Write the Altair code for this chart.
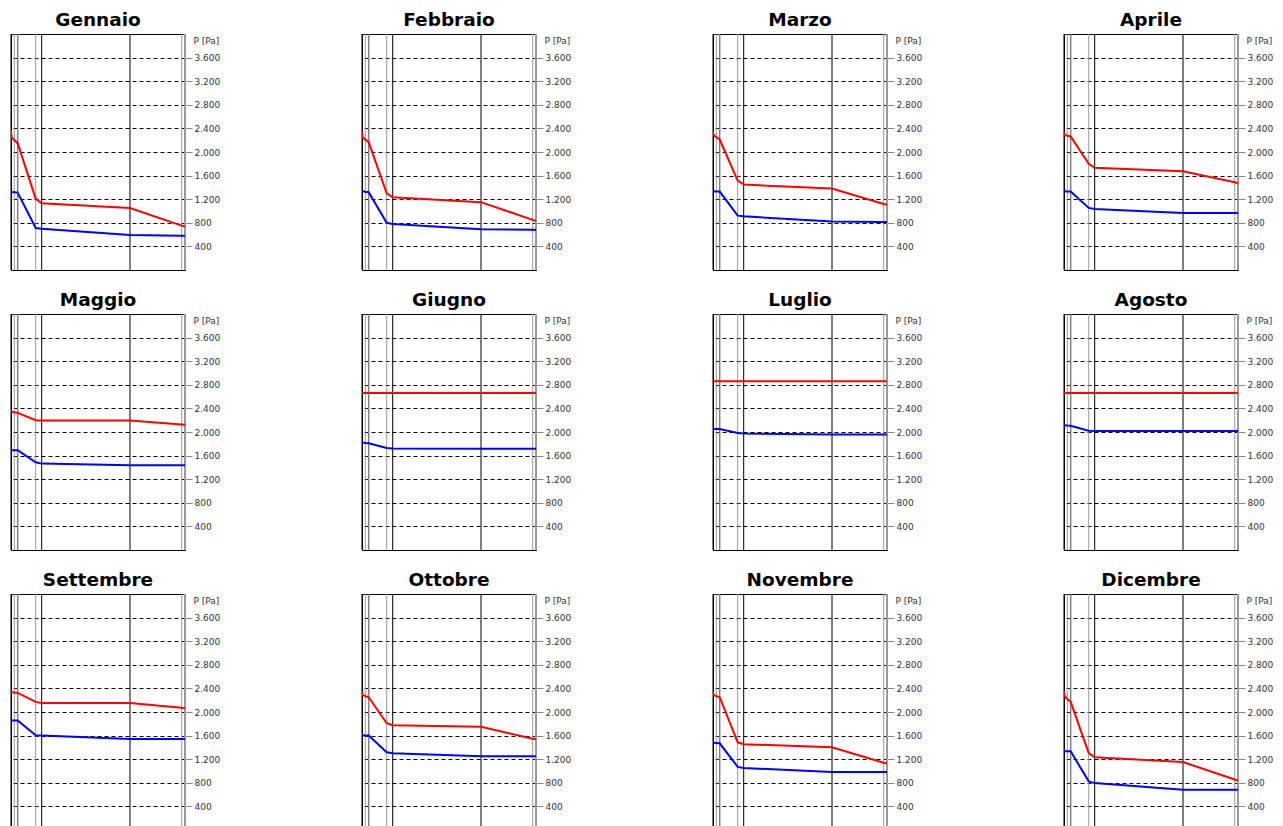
import altair as alt
import pandas as pd

mesi = ["Gennaio", "Febbraio", "Marzo", "Aprile",
        "Maggio", "Giugno", "Luglio", "Agosto",
        "Settembre", "Ottobre", "Novembre", "Dicembre"]

# posizioni lungo lo spessore della parete (unità arbitrarie)
x_punti = [0, 0.6, 3.3, 6.7, 24.7, 30.7, 119, 170.7, 174]
confini = [0, 3.3, 6.7, 24.7, 30.7, 119, 170.7, 174]
colori_confini = ["#000000", "#9a9a9a", "#808080", "#9a9a9a",
                  "#000000", "#000000", "#9a9a9a", "#9a9a9a"]
spessori_confini = [1, 1, 1.5, 1, 1, 1, 1, 2]

# pressione di saturazione (linea rossa) [Pa]
p_sat = {
    "Gennaio":   [2365, 2250, 2200, 2150, 1205, 1130, 1052, 752, 735],
    "Febbraio":  [2340, 2250, 2210, 2167, 1300, 1232, 1150, 850, 835],
    "Marzo":     [2340, 2290, 2250, 2212, 1516, 1448, 1380, 1120, 1110],
    "Aprile":    [2337, 2290, 2275, 2263, 1799, 1731, 1675, 1487, 1470],
    "Maggio":    [2352, 2345, 2335, 2324, 2200, 2195, 2195, 2128, 2123],
    "Giugno":    [2660, 2660, 2660, 2660, 2660, 2660, 2660, 2660, 2660],
    "Luglio":    [2862, 2862, 2862, 2862, 2862, 2862, 2862, 2862, 2862],
    "Agosto":    [2660, 2660, 2660, 2660, 2660, 2660, 2660, 2660, 2660],
    "Settembre": [2335, 2333, 2329, 2324, 2171, 2154, 2154, 2072, 2069],
    "Ottobre":   [2340, 2290, 2270, 2250, 1809, 1775, 1750, 1545, 1537],
    "Novembre":  [2340, 2290, 2270, 2250, 1486, 1455, 1401, 1140, 1130],
    "Dicembre":  [2352, 2267, 2220, 2171, 1305, 1231, 1152, 855, 841],
}

# pressione parziale del vapore (linea blu) [Pa]
p_vap = {
    "Gennaio":   [1320, 1320, 1318, 1312, 712, 700, 593, 582, 581],
    "Febbraio":  [1335, 1335, 1325, 1317, 800, 780, 690, 682, 680],
    "Marzo":     [1335, 1335, 1332, 1329, 921, 910, 822, 815, 815],
    "Aprile":    [1335, 1335, 1332, 1329, 1052, 1035, 967, 967, 967],
    "Maggio":    [1690, 1690, 1690, 1690, 1486, 1464, 1435, 1435, 1435],
    "Giugno":    [1820, 1820, 1815, 1810, 1730, 1720, 1715, 1715, 1715],
    "Luglio":    [2052, 2052, 2052, 2050, 1984, 1973, 1956, 1956, 1956],
    "Agosto":    [2115, 2115, 2110, 2105, 2022, 2018, 2015, 2015, 2015],
    "Settembre": [1855, 1855, 1855, 1855, 1605, 1600, 1543, 1543, 1543],
    "Ottobre":   [1605, 1605, 1603, 1600, 1316, 1300, 1250, 1248, 1248],
    "Novembre":  [1478, 1478, 1474, 1470, 1070, 1050, 985, 985, 985],
    "Dicembre":  [1333, 1333, 1333, 1333, 824, 795, 683, 683, 683],
}

tick_valori = [400, 800, 1200, 1600, 2000, 2400, 2800, 3200, 3600]

W, H = 174, 236

x_scale = alt.Scale(domain=[0, 174], nice=False, zero=False)
y_scale = alt.Scale(domain=[0, 4000], nice=False)

y_axis = alt.Axis(
    orient="right", values=tick_valori,
    labelExpr="replace(format(datum.value, ','), ',', '.')",
    grid=True, gridDash=[4, 3], gridColor="#000000", gridOpacity=1, gridWidth=1,
    domain=False, tickColor="#888888", tickSize=7, tickWidth=1,
    labelPadding=2, labelFont="DejaVu Sans", labelFontSize=9, labelColor="#333333",
    title="P [Pa]", titleAngle=0, titleAlign="left", titleBaseline="middle",
    titleX=8, titleY=6, titleFont="DejaVu Sans", titleFontSize=9,
    titleFontWeight="normal", titleColor="#333333",
)

df_confini = pd.DataFrame({"x": confini, "c": colori_confini, "w": spessori_confini})

pannelli = []
for m in mesi:
    df_r = pd.DataFrame({"x": x_punti, "P": p_sat[m], "o": list(range(len(x_punti)))})
    df_b = pd.DataFrame({"x": x_punti, "P": p_vap[m], "o": list(range(len(x_punti)))})
    regole = alt.Chart(df_confini).mark_rule().encode(
        x=alt.X("x:Q", scale=x_scale, axis=None),
        color=alt.Color("c:N", scale=None),
        strokeWidth=alt.StrokeWidth("w:Q", scale=None),
    )
    rossa = alt.Chart(df_r).mark_line(color="#ff0000", strokeWidth=2, clip=True).encode(
        x=alt.X("x:Q", scale=x_scale, axis=None),
        y=alt.Y("P:Q", scale=y_scale, axis=y_axis),
        order="o:Q",
    )
    blu = alt.Chart(df_b).mark_line(color="#0000ff", strokeWidth=2, clip=True).encode(
        x=alt.X("x:Q", scale=x_scale, axis=None),
        y=alt.Y("P:Q", scale=y_scale, axis=y_axis),
        order="o:Q",
    )
    p = alt.layer(regole, rossa, blu).properties(
        width=W, height=H,
        title=alt.TitleParams(text=m, fontSize=18.5, font="DejaVu Sans", fontWeight="bold",
                              anchor="middle", frame="group", color="#000000", offset=4),
    )
    pannelli.append(p)

chart = alt.concat(*pannelli, columns=4, spacing={"row": 44, "column": 177},
                   bounds="flush").properties(
    padding={"left": 2, "top": 2, "right": 0, "bottom": 0}
).configure_view(stroke="#000000", strokeWidth=1)

chart.save("out.html", embed_options={"renderer": "svg", "actions": False})
